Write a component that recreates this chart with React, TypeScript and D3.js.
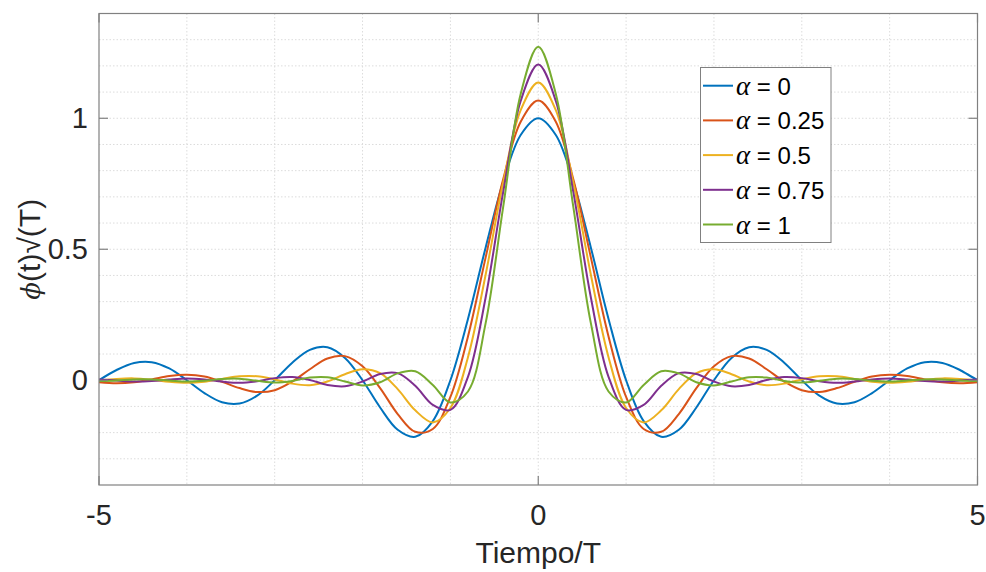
import React, { useEffect, useRef } from "react";
import * as d3 from "d3";

// sample instants (t/T)
const time = [
  -5, -4.8, -4.6, -4.4, -4.2, -4, -3.8, -3.6, -3.4, -3.2, -3, -2.8, -2.6, -2.4, -2.2, -2, -1.8, -1.6, -1.4, -1.2, -1,
  -0.8, -0.6, -0.4, -0.2, 0, 0.2, 0.4, 0.6, 0.8, 1, 1.2, 1.4, 1.6, 1.8, 2, 2.2, 2.4, 2.6, 2.8, 3, 3.2, 3.4, 3.6, 3.8,
  4, 4.2, 4.4, 4.6, 4.8, 5,
];

// pulse values, one array per roll-off
const alpha0 = [
  0, 0.039, 0.066, 0.069, 0.045, 0, -0.049, -0.084, -0.089, -0.059, 0, 0.067, 0.116, 0.126, 0.085, 0, -0.104, -0.189,
  -0.216, -0.156, 0, 0.234, 0.505, 0.757, 0.936, 1, 0.936, 0.757, 0.505, 0.234, 0, -0.156, -0.216, -0.189, -0.104, 0,
  0.085, 0.126, 0.116, 0.067, 0, -0.059, -0.089, -0.084, -0.049, 0, 0.045, 0.069, 0.066, 0.039, 0,
];
const alpha025 = [
  -0.008, -0.012, -0.008, 0.003, 0.016, 0.021, 0.014, -0.006, -0.03, -0.045, -0.038, -0.005, 0.042, 0.083, 0.092,
  0.053, -0.03, -0.129, -0.197, -0.186, -0.064, 0.167, 0.467, 0.766, 0.987, 1.068, 0.987, 0.766, 0.467, 0.167, -0.064,
  -0.186, -0.197, -0.129, -0.03, 0.053, 0.092, 0.083, 0.042, -0.005, -0.038, -0.045, -0.03, -0.006, 0.014, 0.021,
  0.016, 0.003, -0.008, -0.012, -0.008,
];
const alpha05 = [
  -0.001, 0.005, 0.007, 0.002, -0.006, -0.01, -0.006, 0.005, 0.015, 0.015, 0.003, -0.013, -0.019, -0.005, 0.023, 0.042,
  0.027, -0.034, -0.115, -0.161, -0.106, 0.088, 0.401, 0.753, 1.031, 1.137, 1.031, 0.753, 0.401, 0.088, -0.106, -0.161,
  -0.115, -0.034, 0.027, 0.042, 0.023, -0.005, -0.019, -0.013, 0.003, 0.015, 0.015, 0.005, -0.006, -0.01, -0.006,
  0.002, 0.007, 0.005, -0.001,
];
const alpha075 = [
  0.003, -0.001, -0.005, -0.003, 0.003, 0.007, 0.003, -0.005, -0.01, -0.004, 0.008, 0.012, 0.001, -0.018, -0.023,
  -0.005, 0.024, 0.027, -0.021, -0.094, -0.113, 0.013, 0.314, 0.717, 1.066, 1.205, 1.066, 0.717, 0.314, 0.013, -0.113,
  -0.094, -0.021, 0.027, 0.024, -0.005, -0.023, -0.018, 0.001, 0.012, 0.008, -0.004, -0.01, -0.005, 0.003, 0.007,
  0.003, -0.003, -0.005, -0.001, 0.003,
];
const alpha1 = [
  -0.003, -0.001, 0.003, 0.003, -0.001, -0.005, -0.002, 0.005, 0.006, -0.002, -0.009, -0.003, 0.01, 0.011, -0.005,
  -0.02, -0.008, 0.026, 0.034, -0.018, -0.085, -0.043, 0.216, 0.66, 1.093, 1.273, 1.093, 0.66, 0.216, -0.043, -0.085,
  -0.018, 0.034, 0.026, -0.008, -0.02, -0.005, 0.011, 0.01, -0.003, -0.009, -0.002, 0.006, 0.005, -0.002, -0.005,
  -0.001, 0.003, 0.003, -0.001, -0.003,
];

const alphaLabels = ["0", "0.25", "0.5", "0.75", "1"];
const seriesValues = [alpha0, alpha025, alpha05, alpha075, alpha1];
const colors = ["#0072BD", "#D95319", "#EDB120", "#7E2F8E", "#77AC30"];

const xTicks = [-5, 0, 5];
const yTicks = [0, 0.5, 1];
const xMinorGrid = [-4, -3, -2, -1, 0, 1, 2, 3, 4];
const yMinorGrid = [-0.3, -0.2, -0.1, 0, 0.1, 0.2, 0.3, 0.4, 0.5, 0.6, 0.7, 0.8, 0.9, 1, 1.1, 1.2, 1.3];

const W = 986;
const H = 572;
const FONT = "'Liberation Sans', Arial, Helvetica, sans-serif";
const TEXT = "#262626";
const AXIS = "#808080";

export default function App() {
  const ref = useRef<SVGSVGElement>(null);

  useEffect(() => {
    const svg = d3.select(ref.current);
    svg.selectAll("*").remove();

    const left = 99, right = 977.5, top = 13.5, bottom = 485;
    const x = d3.scaleLinear().domain([-5, 5]).range([left, right]);
    const y = d3.scaleLinear().domain([-0.4, 1.4]).range([bottom, top]);

    svg.append("rect").attr("width", W).attr("height", H).attr("fill", "#fff");

    // grid
    const grid = svg.append("g").attr("stroke", "#dcdcdc").attr("stroke-width", 1).attr("stroke-dasharray", "1.5 2");
    grid
      .selectAll("line.v")
      .data(xMinorGrid)
      .join("line")
      .attr("x1", (d) => x(d))
      .attr("x2", (d) => x(d))
      .attr("y1", top)
      .attr("y2", bottom);
    grid
      .selectAll("line.h")
      .data(yMinorGrid)
      .join("line")
      .attr("class", "h")
      .attr("x1", left)
      .attr("x2", right)
      .attr("y1", (d) => y(d))
      .attr("y2", (d) => y(d));

    // curves
    svg
      .append("defs")
      .append("clipPath")
      .attr("id", "plotclip")
      .append("rect")
      .attr("x", left)
      .attr("y", top)
      .attr("width", right - left)
      .attr("height", bottom - top);

    const line = d3
      .line<number>()
      .x((_, i) => x(time[i]))
      .y((d) => y(d))
      .curve(d3.curveCatmullRom.alpha(0.5));

    svg
      .append("g")
      .attr("clip-path", "url(#plotclip)")
      .selectAll("path")
      .data(seriesValues)
      .join("path")
      .attr("d", (d) => line(d))
      .attr("fill", "none")
      .attr("stroke", (_, i) => colors[i])
      .attr("stroke-width", 2);

    // box + ticks
    svg
      .append("rect")
      .attr("x", left)
      .attr("y", top)
      .attr("width", right - left)
      .attr("height", bottom - top)
      .attr("fill", "none")
      .attr("stroke", AXIS)
      .attr("stroke-width", 1.2);

    const ticks = svg.append("g").attr("stroke", AXIS).attr("stroke-width", 1.2);
    xTicks.forEach((t) => {
      ticks.append("line").attr("x1", x(t)).attr("x2", x(t)).attr("y1", bottom).attr("y2", bottom - 9);
      ticks.append("line").attr("x1", x(t)).attr("x2", x(t)).attr("y1", top).attr("y2", top + 9);
    });
    yTicks.forEach((t) => {
      ticks.append("line").attr("x1", left).attr("x2", left + 9).attr("y1", y(t)).attr("y2", y(t));
      ticks.append("line").attr("x1", right).attr("x2", right - 9).attr("y1", y(t)).attr("y2", y(t));
    });

    // tick labels
    svg
      .append("g")
      .selectAll("text")
      .data(xTicks)
      .join("text")
      .attr("x", (d) => x(d))
      .attr("y", 525)
      .attr("text-anchor", "middle")
      .attr("font-family", FONT)
      .attr("font-size", 29)
      .attr("fill", TEXT)
      .text((d) => String(d));

    svg
      .append("g")
      .selectAll("text")
      .data(yTicks)
      .join("text")
      .attr("x", left - 11)
      .attr("y", (d) => y(d) + 10)
      .attr("text-anchor", "end")
      .attr("font-family", FONT)
      .attr("font-size", 29)
      .attr("fill", TEXT)
      .text((d) => String(d));

    // axis labels
    svg
      .append("text")
      .attr("x", x(0))
      .attr("y", 563)
      .attr("text-anchor", "middle")
      .attr("font-family", FONT)
      .attr("font-size", 30)
      .attr("fill", TEXT)
      .text("Tiempo/T");

    const yl = svg
      .append("text")
      .attr("transform", `translate(40,${(top + bottom) / 2}) rotate(-90)`)
      .attr("text-anchor", "middle")
      .attr("font-family", FONT)
      .attr("font-size", 30)
      .attr("fill", TEXT);
    yl.append("tspan").attr("font-style", "italic").attr("font-family", "'DejaVu Serif', serif").attr("font-size", 26).text("ϕ");
    yl.append("tspan").text("(t)√(T)");

    // legend
    const lg = svg.append("g");
    lg.append("rect")
      .attr("x", 700.5)
      .attr("y", 67.5)
      .attr("width", 130.5)
      .attr("height", 175)
      .attr("fill", "#fff")
      .attr("stroke", AXIS)
      .attr("stroke-width", 1);

    const rows = lg
      .selectAll("g.row")
      .data(alphaLabels)
      .join("g")
      .attr("transform", (_, i) => `translate(0,${85.7 + i * 34.7})`);
    rows
      .append("line")
      .attr("x1", 703)
      .attr("x2", 733)
      .attr("stroke", (_, i) => colors[i])
      .attr("stroke-width", 2);
    const lt = rows
      .append("text")
      .attr("x", 736)
      .attr("y", 9)
      .attr("font-family", FONT)
      .attr("font-size", 24)
      .attr("fill", "#000");
    lt.append("tspan").attr("font-style", "italic").attr("font-family", "'Liberation Serif', serif").attr("font-size", 27).text("α");
    lt.append("tspan").text((d) => ` = ${d}`);
  }, []);

  return (
    <div style={{ position: "absolute", left: 0, top: 0 }}>
      <svg ref={ref} width={W} height={H} style={{ display: "block" }} />
    </div>
  );
}
